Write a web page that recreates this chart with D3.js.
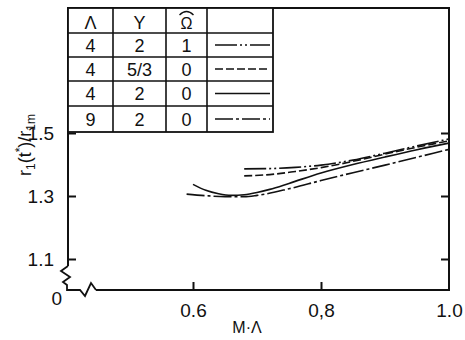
<!DOCTYPE html>
<html>
<head>
<meta charset="utf-8">
<script src="https://cdn.jsdelivr.net/npm/d3@7"></script>
<style>
  body { margin: 0; background: #fff; }
  svg { display: block; }
  text { font-family: "Liberation Sans", Arial, sans-serif; fill: #111; }
</style>
</head>
<body>
<script>
// --- data ---
const xTicks = [0.6, 0.8, 1.0];
const xTickLabels = ["0.6", "0,8", "1.0"];
const yTicks = [1.1, 1.3, 1.5];
const yTickLabels = ["1.1", "1.3", "1.5"];

const headers = ["\u039b", "Y", "\u03a9"];
const lambdaVals = ["4", "4", "4", "9"];
const gammaVals = ["2", "5/3", "2", "2"];
const omegaVals = ["1", "0", "0", "0"];

// Λ=4, γ=2, Ω=1
const s1x = [0.68, 0.72, 0.76, 0.80, 0.85, 0.90, 0.95, 1.0];
const s1y = [1.386, 1.387, 1.391, 1.398, 1.414, 1.436, 1.459, 1.481];
// Λ=4, γ=5/3, Ω=0
const s2x = [0.68, 0.72, 0.76, 0.80, 0.85, 0.90, 0.95, 1.0];
const s2y = [1.364, 1.368, 1.378, 1.390, 1.410, 1.433, 1.455, 1.475];
// Λ=4, γ=2, Ω=0
const s3x = [0.60, 0.62, 0.64, 0.66, 0.68, 0.70, 0.72, 0.75, 0.80, 0.85, 0.90, 0.95, 1.0];
const s3y = [1.337, 1.318, 1.307, 1.302, 1.304, 1.311, 1.321, 1.340, 1.373, 1.400, 1.424, 1.447, 1.468];
// Λ=9, γ=2, Ω=0
const s4x = [0.59, 0.62, 0.65, 0.68, 0.70, 0.75, 0.80, 0.85, 0.90, 0.95, 1.0];
const s4y = [1.306, 1.301, 1.298, 1.298, 1.302, 1.323, 1.349, 1.374, 1.398, 1.423, 1.448];

const series = [[s1x, s1y], [s2x, s2y], [s3x, s3y], [s4x, s4y]];
const dashes = ["22,3,2,3,2,3", "8,3", null, "18,3,3,3"];

// --- layout ---
const W = 465, H = 340;
const LEFT = 68, RIGHT = 449, TOP = 8, BOTTOM = 290;
const colEdges = [68, 113, 166, 207, 273];
const rowEdges = [8, 33, 57, 81, 106, 132];
const INK = "#111";

const svg = d3.select("body").append("svg").attr("width", W).attr("height", H);

const x = d3.scaleLinear().domain([0.6, 1.0]).range([193, RIGHT]);
const y = d3.scaleLinear().domain([1.1, 1.5]).range([259, 133]);

// frame (top + right) and broken left/bottom axes
svg.append("path")
  .attr("d", `M${LEFT},266 L${LEFT},${TOP} L${RIGHT},${TOP} L${RIGHT},${BOTTOM} L96,${BOTTOM}`)
  .attr("fill", "none").attr("stroke", INK).attr("stroke-width", 2);
svg.append("path")
  .attr("d", `M${LEFT},266 L61,271 L70,277 L63,282 L67,285 L67,${BOTTOM} L80,${BOTTOM} L85,296 L91,283 L96,${BOTTOM}`)
  .attr("fill", "none").attr("stroke", INK).attr("stroke-width", 1.8).attr("stroke-linejoin", "miter");

// ticks
const xAxis = svg.append("g").attr("transform", `translate(0,${BOTTOM})`)
  .call(d3.axisBottom(x).tickValues(xTicks).tickSize(-8).tickPadding(14)
    .tickFormat((d, i) => xTickLabels[i]));
const yAxisL = svg.append("g").attr("transform", `translate(${LEFT},0)`)
  .call(d3.axisLeft(y).tickValues(yTicks).tickSize(-8).tickPadding(14)
    .tickFormat((d, i) => yTickLabels[i]));
const yAxisR = svg.append("g").attr("transform", `translate(${RIGHT},0)`)
  .call(d3.axisRight(y).tickValues(yTicks).tickSize(-8).tickFormat(""));
[xAxis, yAxisL, yAxisR].forEach((g) => {
  g.select(".domain").remove();
  g.selectAll("line").attr("stroke", INK).attr("stroke-width", 2);
  g.selectAll("text").attr("font-size", 19).attr("fill", INK)
    .attr("font-family", "Liberation Sans, Arial, sans-serif");
});
xAxis.selectAll(".tick").filter((d) => d === 1.0).select("line").remove();

// "0" at the axis break
svg.append("text").attr("x", 62).attr("y", 305).attr("text-anchor", "end")
  .attr("font-size", 19).text("0");

// axis titles
svg.append("text").attr("x", 247).attr("y", 333).attr("text-anchor", "middle")
  .attr("font-size", 16).text("M\u00b7\u039b");

const yl = svg.append("text").attr("transform", "translate(31,145) rotate(-90)")
  .attr("text-anchor", "middle").attr("font-size", 18);
yl.append("tspan").text("r");
yl.append("tspan").attr("font-size", 12).attr("dy", 4).text("1");
yl.append("tspan").attr("dy", -4).text("(t");
yl.append("tspan").attr("font-size", 12).attr("dy", -7).text("*");
yl.append("tspan").attr("dy", 7).text(")/r");
yl.append("tspan").attr("font-size", 12).attr("dy", 4).text("1m");

// curves
const line = d3.line().x((d) => x(d[0])).y((d) => y(d[1])).curve(d3.curveMonotoneX);
series.forEach(([xs, ys], i) => {
  svg.append("path")
    .datum(xs.map((v, j) => [v, ys[j]]))
    .attr("d", line)
    .attr("fill", "none").attr("stroke", INK).attr("stroke-width", 1.6)
    .attr("stroke-dasharray", dashes[i]);
});

// legend table
const table = svg.append("g");
table.append("rect").attr("x", colEdges[0]).attr("y", rowEdges[0])
  .attr("width", colEdges[4] - colEdges[0]).attr("height", rowEdges[5] - rowEdges[0])
  .attr("fill", "#fff").attr("stroke", INK).attr("stroke-width", 1.8);
colEdges.slice(1, 4).forEach((cx) => {
  table.append("line").attr("x1", cx).attr("x2", cx).attr("y1", rowEdges[0]).attr("y2", rowEdges[5])
    .attr("stroke", INK).attr("stroke-width", 1.6);
});
rowEdges.slice(1, 5).forEach((ry) => {
  table.append("line").attr("x1", colEdges[0]).attr("x2", colEdges[4]).attr("y1", ry).attr("y2", ry)
    .attr("stroke", INK).attr("stroke-width", 1.6);
});
const colMid = (c) => (colEdges[c] + colEdges[c + 1]) / 2;
const rowMid = (r) => (rowEdges[r] + rowEdges[r + 1]) / 2;
headers.forEach((h, c) => {
  table.append("text").attr("x", colMid(c)).attr("y", rowMid(0) + 8)
    .attr("text-anchor", "middle").attr("font-size", c === 2 ? 16 : 18).text(h);
});
// hat over the Omega
const hx = colMid(2);
table.append("path")
  .attr("d", `M${hx - 7},15 Q${hx},8 ${hx + 7},15`)
  .attr("fill", "none").attr("stroke", INK).attr("stroke-width", 1.4);
[lambdaVals, gammaVals, omegaVals].forEach((vals, c) => {
  vals.forEach((v, r) => {
    table.append("text").attr("x", colMid(c)).attr("y", rowMid(r + 1) + 6.5)
      .attr("text-anchor", "middle").attr("font-size", 18).text(v);
  });
});
dashes.forEach((da, r) => {
  table.append("line").attr("x1", 215).attr("x2", 270)
    .attr("y1", rowMid(r + 1)).attr("y2", rowMid(r + 1))
    .attr("stroke", INK).attr("stroke-width", 1.6).attr("stroke-dasharray", da);
});
</script>
</body>
</html>
